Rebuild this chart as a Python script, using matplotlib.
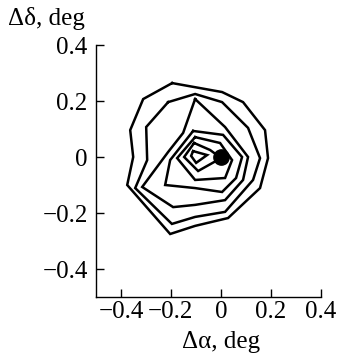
import matplotlib
matplotlib.use('Agg')
import matplotlib.pyplot as plt

plt.rcParams['font.family'] = ['Liberation Serif', 'DejaVu Serif']
plt.rcParams['font.size'] = 18

# contour levels, outermost first (d_alpha, d_delta in degrees)
c1_x = [-0.195, 0.005, 0.089, 0.177, 0.189, 0.157, 0.029, -0.103, -0.203, -0.375, -0.351, -0.363, -0.311]
c1_y = [0.264, 0.232, 0.196, 0.096, -0.004, -0.111, -0.218, -0.246, -0.275, -0.100, 0.000, 0.096, 0.207]

c2_x = [-0.211, -0.103, 0.005, 0.109, 0.157, 0.129, 0.017, -0.103, -0.196, -0.343, -0.295, -0.299]
c2_y = [0.196, 0.225, 0.196, 0.104, -0.004, -0.082, -0.196, -0.214, -0.239, -0.111, -0.011, 0.107]

c3_x = [-0.103, 0.017, 0.109, 0.089, 0.017, -0.103, -0.191, -0.315, -0.211, -0.151]
c3_y = [0.207, 0.107, 0.000, -0.082, -0.154, -0.171, -0.179, -0.107, 0.018, 0.086]

c4_x = [-0.111, 0.009, 0.085, 0.061, 0.005, -0.103, -0.223, -0.203]
c4_y = [0.093, 0.079, 0.000, -0.075, -0.125, -0.111, -0.100, -0.011]

c5_x = [-0.103, -0.003, 0.045, 0.017, -0.103, -0.175]
c5_y = [0.071, 0.050, -0.011, -0.075, -0.082, -0.004]

c6_x = [-0.107, -0.043, 0.001, -0.091, -0.147]
c6_y = [0.050, 0.025, -0.004, -0.050, 0.000]

c7_x = [-0.111, -0.055, -0.099, -0.119]
c7_y = [0.021, 0.007, -0.021, 0.004]

contours = [(c1_x, c1_y), (c2_x, c2_y), (c3_x, c3_y), (c4_x, c4_y),
            (c5_x, c5_y), (c6_x, c6_y), (c7_x, c7_y)]

center_x = [0.0]
center_y = [0.0]

xticks = [-0.4, -0.2, 0, 0.2, 0.4]
yticks = [-0.4, -0.2, 0, 0.2, 0.4]
tick_text = ['\u22120.4', '\u22120.2', '0', '0.2', '0.4']

fig = plt.figure(figsize=(3.4, 3.53), dpi=100)
ax = fig.add_axes([96 / 340, 1 - 297 / 353, 224.7 / 340, 252 / 353])

for xs, ys in contours:
    ax.plot(xs + xs[:1], ys + ys[:1], color='k', lw=1.8, solid_joinstyle='miter')

ax.plot(center_x, center_y, 'o', color='k', ms=11)

ax.set_xlim(-0.5, 0.4)
ax.set_ylim(-0.5, 0.4)
ax.set_xticks(xticks)
ax.set_yticks(yticks)
ax.set_xticklabels(tick_text)
ax.set_yticklabels(tick_text)
ax.tick_params(direction='in', length=6, width=1.0, pad=6)
ax.tick_params(axis='x', pad=3)

for side in ['top', 'right']:
    ax.spines[side].set_visible(False)
for side in ['left', 'bottom']:
    ax.spines[side].set_linewidth(1.0)

ax.set_xlabel('\u0394\u03b1, deg')
ax.xaxis.set_label_coords(0.5 / 0.9, -0.203)
ax.xaxis.label.set_va('baseline')
fig.text(8 / 340, 1 - 25 / 353, '\u0394\u03b4, deg', ha='left', va='baseline')

fig.savefig('out.png', dpi=100)
